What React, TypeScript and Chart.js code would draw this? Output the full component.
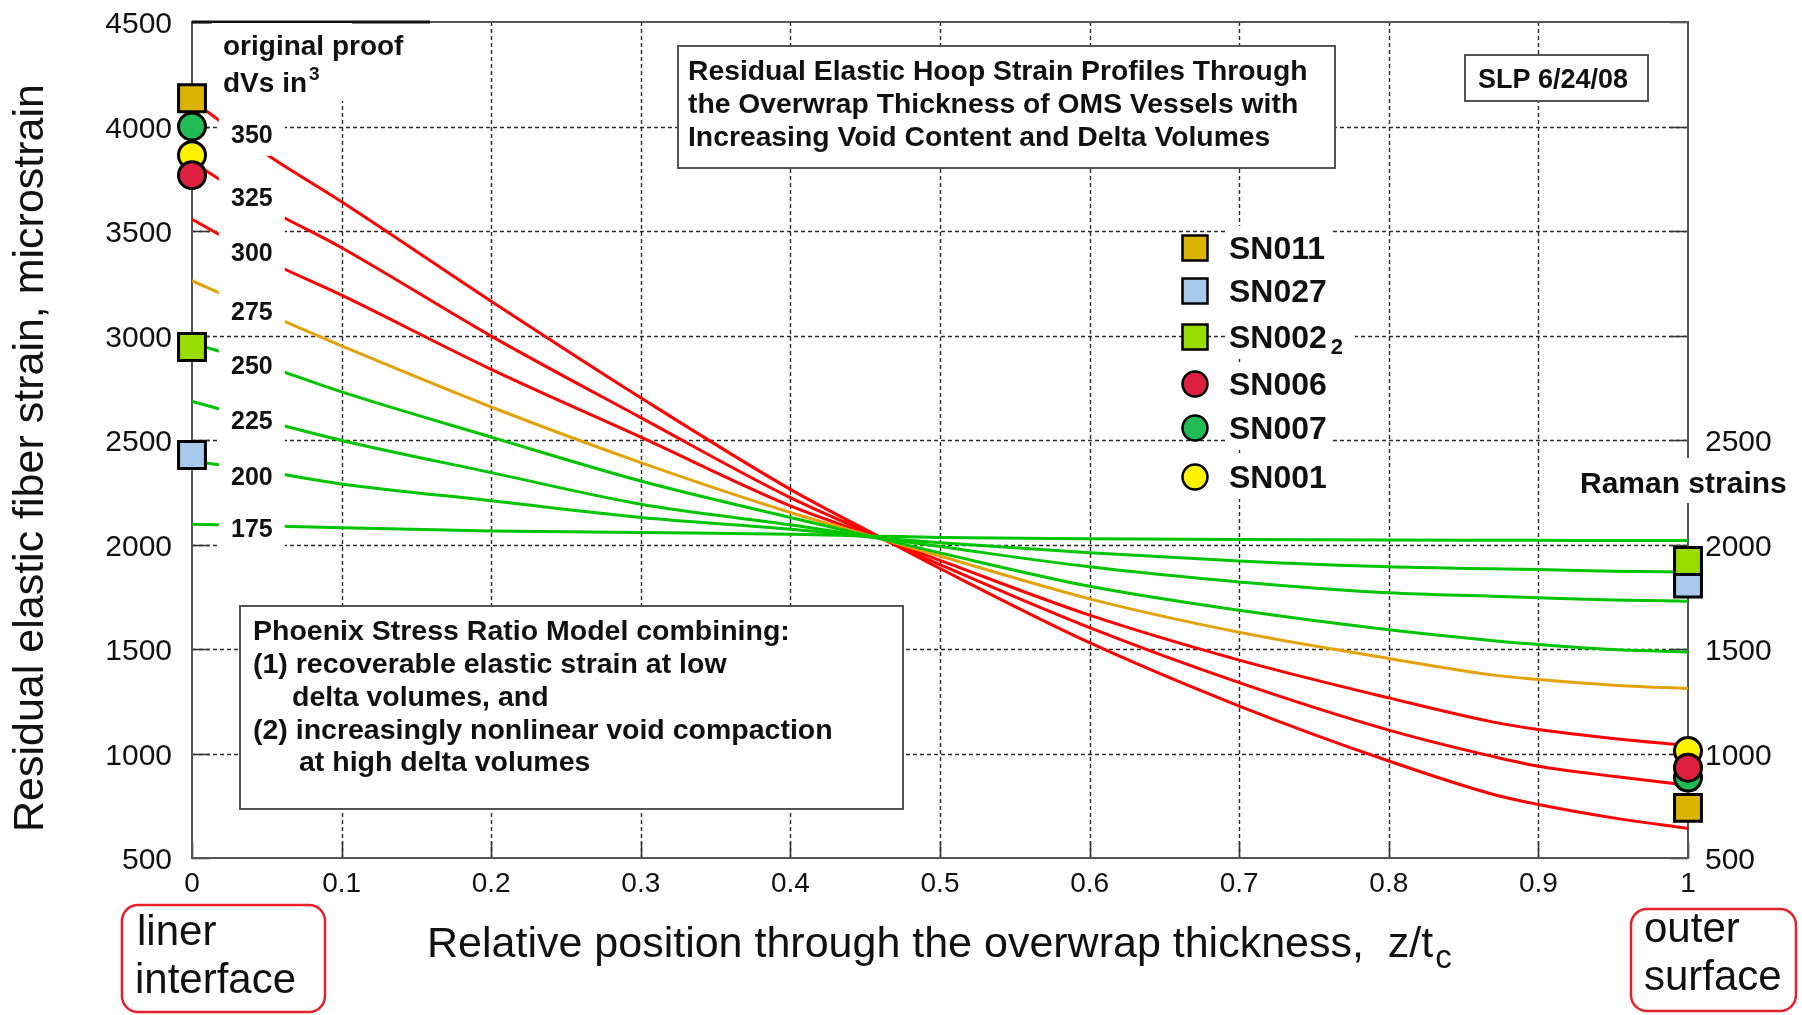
import React, { useEffect, useRef } from 'react';
import { Chart, registerables } from 'chart.js';

Chart.register(...registerables);

// ---------------- data ----------------
// relative position through the overwrap thickness, z/tc
const Z_POS = [0, 0.05, 0.1, 0.2, 0.3, 0.4, 0.46, 0.5, 0.6, 0.7, 0.8, 0.87, 0.9, 0.95, 1.0];

// residual elastic fiber strain (microstrain) for each original proof dV (in^3)
const DV175 = [2097, 2089, 2080, 2065, 2057, 2049, 2040, 2034, 2028, 2024, 2021, 2020, 2020, 2019, 2019];
const DV200 = [2400, 2348, 2290, 2209, 2129, 2073, 2031, 2008, 1960, 1921, 1893, 1884, 1880, 1872, 1869];
const DV225 = [2684, 2589, 2498, 2344, 2193, 2094, 2030, 1990, 1893, 1821, 1769, 1752, 1745, 1734, 1729];
const DV250 = [2965, 2853, 2730, 2514, 2304, 2129, 2028, 1960, 1800, 1685, 1592, 1540, 1522, 1498, 1486];
const DV275 = [3262, 3103, 2950, 2658, 2392, 2153, 2028, 1945, 1740, 1580, 1455, 1375, 1354, 1327, 1311];
const DV300 = [3556, 3359, 3193, 2838, 2514, 2185, 2030, 1924, 1662, 1447, 1266, 1150, 1115, 1072, 1038];
const DV325 = [3830, 3609, 3420, 2997, 2607, 2224, 2032, 1904, 1602, 1339, 1112, 985, 939, 891, 848];
const DV350 = [4125, 3866, 3640, 3164, 2702, 2264, 2035, 1885, 1530, 1227, 964, 804, 756, 692, 641];

const DV_LABELS = ['175', '200', '225', '250', '275', '300', '325', '350'];
const DV_SERIES = [DV175, DV200, DV225, DV250, DV275, DV300, DV325, DV350];

// measured strains: liner interface (z/tc = 0) and Raman strains at outer surface (z/tc = 1)
const SAMPLES = ['SN011', 'SN027', 'SN002', 'SN006', 'SN007', 'SN001'];
const LINER_STRAIN = [4135, 2428, 2945, 3767, 4000, 3863];
const RAMAN_STRAIN = [740, 1813, 1921, 932, 885, 1012];

const Y_TICKS = [500, 1000, 1500, 2000, 2500, 3000, 3500, 4000, 4500];
const Y_TICKS_RIGHT = [500, 1000, 1500, 2000, 2500];
const X_TICKS = [0, 0.1, 0.2, 0.3, 0.4, 0.5, 0.6, 0.7, 0.8, 0.9, 1];
const X_TICK_LABELS = ['0', '0.1', '0.2', '0.3', '0.4', '0.5', '0.6', '0.7', '0.8', '0.9', '1'];

// ---------------- styles ----------------
const FF = '"Liberation Sans", Arial, Helvetica, sans-serif';
const DV_COLORS = ['#00c400', '#00c400', '#00c400', '#00c400', '#e3a20a', '#ff0000', '#ff0000', '#ff0000'];
const SAMPLE_SHAPES = ['rect', 'rect', 'rect', 'circle', 'circle', 'circle'];
const SAMPLE_FILLS = ['#dcb400', '#a9c9ec', '#99dd00', '#dd2040', '#20bb55', '#fff200'];
const SAMPLE_ORDER = [4, 6, 5, 1, 3, 2];

function txt(ctx: any, s: string, x: number, y: number, font: string, align: any = 'left', color = '#111') {
  ctx.save();
  ctx.font = font;
  ctx.fillStyle = color;
  ctx.textAlign = align;
  ctx.textBaseline = 'alphabetic';
  ctx.fillText(s, x, y);
  const w = ctx.measureText(s).width;
  ctx.restore();
  return w;
}

function roundBox(ctx: any, x: number, y: number, w: number, h: number, r: number) {
  ctx.beginPath();
  ctx.moveTo(x + r, y);
  ctx.lineTo(x + w - r, y);
  ctx.arcTo(x + w, y, x + w, y + r, r);
  ctx.lineTo(x + w, y + h - r);
  ctx.arcTo(x + w, y + h, x + w - r, y + h, r);
  ctx.lineTo(x + r, y + h);
  ctx.arcTo(x, y + h, x, y + h - r, r);
  ctx.lineTo(x, y + r);
  ctx.arcTo(x, y, x + r, y, r);
  ctx.closePath();
}

function whiteBox(ctx: any, x: number, y: number, w: number, h: number, border = true) {
  ctx.save();
  ctx.fillStyle = '#fff';
  ctx.fillRect(x, y, w, h);
  if (border) {
    ctx.strokeStyle = '#555';
    ctx.lineWidth = 2;
    ctx.strokeRect(x, y, w, h);
  }
  ctx.restore();
}

function marker(ctx: any, shape: string, x: number, y: number, fill: string) {
  ctx.save();
  ctx.fillStyle = fill;
  ctx.strokeStyle = '#000';
  ctx.lineWidth = 2.5;
  ctx.beginPath();
  if (shape === 'rect') ctx.rect(x - 12.5, y - 12.5, 25, 25);
  else ctx.arc(x, y, 12.5, 0, Math.PI * 2);
  ctx.fill();
  ctx.stroke();
  ctx.restore();
}

const decor = {
  id: 'decor',
  beforeDraw(chart: any) {
    const ctx = chart.ctx;
    ctx.save();
    ctx.fillStyle = '#fff';
    ctx.fillRect(0, 0, chart.width, chart.height);
    ctx.restore();
  },
  beforeDatasetsDraw(chart: any) {
    const { ctx, chartArea: a, scales } = chart;
    const xs = scales.x;
    const ys = scales.y;
    ctx.save();

    // dotted grid
    ctx.strokeStyle = '#2a2a2a';
    ctx.lineWidth = 1.4;
    ctx.setLineDash([4, 3]);
    X_TICKS.forEach((v) => {
      if (v <= 0 || v >= 1) return;
      const px = Math.round(xs.getPixelForValue(v)) + 0.5;
      ctx.beginPath();
      ctx.moveTo(px, a.top);
      ctx.lineTo(px, a.bottom);
      ctx.stroke();
    });
    Y_TICKS.forEach((v) => {
      if (v <= 500 || v >= 4500) return;
      const py = Math.round(ys.getPixelForValue(v)) + 0.5;
      ctx.beginPath();
      ctx.moveTo(a.left, py);
      ctx.lineTo(a.right, py);
      ctx.stroke();
    });
    ctx.setLineDash([]);

    // inner tick marks
    ctx.strokeStyle = '#333';
    ctx.lineWidth = 1.6;
    Y_TICKS.forEach((v) => {
      const py = Math.round(ys.getPixelForValue(v)) + 0.5;
      ctx.beginPath();
      ctx.moveTo(a.left, py);
      ctx.lineTo(a.left + 18, py);
      ctx.moveTo(a.right - 18, py);
      ctx.lineTo(a.right, py);
      ctx.stroke();
    });
    X_TICKS.forEach((v) => {
      const px = Math.round(xs.getPixelForValue(v)) + 0.5;
      ctx.beginPath();
      ctx.moveTo(px, a.bottom);
      ctx.lineTo(px, a.bottom - 16);
      ctx.stroke();
    });

    // frame
    ctx.strokeStyle = '#555';
    ctx.lineWidth = 2;
    ctx.strokeRect(a.left, a.top, a.right - a.left, a.bottom - a.top);
    ctx.strokeStyle = '#111';
    ctx.lineWidth = 3;
    ctx.beginPath();
    ctx.moveTo(a.left, a.top);
    ctx.lineTo(430, a.top);
    ctx.stroke();

    // tick labels
    Y_TICKS.forEach((v) => txt(ctx, String(v), 172, ys.getPixelForValue(v) + 11, `30px ${FF}`, 'right'));
    Y_TICKS_RIGHT.forEach((v) => txt(ctx, String(v), 1705, ys.getPixelForValue(v) + 11, `30px ${FF}`, 'left'));
    X_TICKS.forEach((v, i) => txt(ctx, X_TICK_LABELS[i], xs.getPixelForValue(v), 892, `28px ${FF}`, 'center'));

    // axis titles
    ctx.save();
    ctx.translate(43, 458);
    ctx.rotate(-Math.PI / 2);
    txt(ctx, 'Residual elastic fiber strain, microstrain', 0, 0, `43px ${FF}`, 'center');
    ctx.restore();
    const wx = txt(ctx, 'Relative position through the overwrap thickness,  z/t', 427, 957, `43px ${FF}`);
    txt(ctx, 'c', 427 + wx + 2, 968, `33px ${FF}`);

    // title box
    whiteBox(ctx, 678, 46, 657, 122);
    const tf = `bold 28.3px ${FF}`;
    txt(ctx, 'Residual Elastic Hoop Strain Profiles Through', 688, 80, tf);
    txt(ctx, 'the Overwrap Thickness of OMS Vessels with', 688, 113, tf);
    txt(ctx, 'Increasing Void Content and Delta Volumes', 688, 146, tf);

    // date box
    whiteBox(ctx, 1465, 55, 183, 46);
    txt(ctx, 'SLP 6/24/08', 1478, 88, `bold 27px ${FF}`);

    // model box
    whiteBox(ctx, 240, 606, 663, 203);
    const pf = `bold 28.5px ${FF}`;
    txt(ctx, 'Phoenix Stress Ratio Model combining:', 253, 640, pf);
    txt(ctx, '(1) recoverable elastic strain at low', 253, 673, pf);
    txt(ctx, 'delta volumes, and', 292, 706, pf);
    txt(ctx, '(2) increasingly nonlinear void compaction', 253, 739, pf);
    txt(ctx, 'at high delta volumes', 299, 771, pf);

    // dV legend heading
    whiteBox(ctx, 212, 23, 140, 78, false);
    const hf = `bold 28px ${FF}`;
    txt(ctx, 'original proof', 223, 55, hf);
    const wd = txt(ctx, 'dVs in', 223, 92, hf);
    txt(ctx, '3', 223 + wd + 2, 80, `bold 19px ${FF}`);

    // sample legend
    const LEG_Y = [248, 291, 337, 384, 428, 477];
    const lf = `bold 32px ${FF}`;
    SAMPLES.forEach((name, i) => {
      const cy = LEG_Y[i];
      ctx.save();
      ctx.font = lf;
      const w = ctx.measureText(name).width + (name === 'SN002' ? 22 : 0);
      ctx.restore();
      whiteBox(ctx, 1225, cy - 22, w + 10, 44, false);
      marker(ctx, SAMPLE_SHAPES[i], 1195, cy, SAMPLE_FILLS[i]);
      const tw = txt(ctx, name, 1229, cy + 11, lf);
      if (name === 'SN002') txt(ctx, '2', 1229 + tw + 4, cy + 17, `bold 22px ${FF}`);
    });

    // Raman strains label over the right frame
    whiteBox(ctx, 1574, 458, 224, 45, false);
    txt(ctx, 'Raman strains', 1580, 493, `bold 30px ${FF}`);

    // red rounded callouts
    ctx.strokeStyle = '#e8202a';
    ctx.lineWidth = 2.5;
    roundBox(ctx, 122, 905, 203, 107, 16);
    ctx.stroke();
    roundBox(ctx, 1631, 909, 165, 102, 16);
    ctx.stroke();
    txt(ctx, 'liner', 137, 945, `42px ${FF}`);
    txt(ctx, 'interface', 135, 993, `42px ${FF}`);
    txt(ctx, 'outer', 1644, 942, `42px ${FF}`);
    txt(ctx, 'surface', 1644, 990, `42px ${FF}`);

    ctx.restore();
  },
  afterDatasetsDraw(chart: any) {
    const { ctx, scales } = chart;
    const xs = scales.x;
    const ys = scales.y;
    // curve labels (dV values) placed near the liner interface
    const LABEL_AT = [2078, 2327, 2595, 2858, 3116, 3399, 3661, 3965];
    const cx = xs.getPixelForValue(0.04);
    DV_LABELS.forEach((lab, i) => {
      const cy = ys.getPixelForValue(LABEL_AT[i]);
      whiteBox(ctx, cx - 33, cy - 22, 66, 44, false);
      txt(ctx, lab, cx, cy + 9, `bold 25px ${FF}`, 'center');
    });
  },
};

export default function App() {
  const ref = useRef<HTMLCanvasElement | null>(null);

  useEffect(() => {
    document.body.style.margin = '0';
    document.body.style.overflow = 'hidden';
    const canvas = ref.current;
    if (!canvas) return;

    const curveSets = DV_SERIES.map((vals, i) => ({
      label: DV_LABELS[i],
      data: Z_POS.map((z, j) => ({ x: z, y: vals[j] })),
      showLine: true,
      borderColor: DV_COLORS[i],
      backgroundColor: DV_COLORS[i],
      borderWidth: 3,
      pointRadius: 0,
      fill: false,
      cubicInterpolationMode: 'monotone',
      order: 20 + i,
    }));

    const sampleSets = SAMPLES.map((name, i) => ({
      label: name,
      data: [
        { x: 0, y: LINER_STRAIN[i] },
        { x: 1, y: RAMAN_STRAIN[i] },
      ],
      showLine: false,
      pointStyle: SAMPLE_SHAPES[i],
      pointRadius: SAMPLE_SHAPES[i] === 'rect' ? 19 : 13.5,
      backgroundColor: SAMPLE_FILLS[i],
      borderColor: '#000',
      pointBorderWidth: 3,
      borderWidth: 3,
      clip: false,
      order: SAMPLE_ORDER[i],
    }));

    const chart = new Chart(canvas, {
      type: 'scatter',
      data: { datasets: [...curveSets, ...sampleSets] as any },
      options: {
        animation: false,
        responsive: false,
        devicePixelRatio: 1,
        events: [],
        layout: { padding: { left: 192, right: 114, top: 21, bottom: 157 } },
        plugins: {
          legend: { display: false },
          tooltip: { enabled: false },
          title: { display: false },
        },
        scales: {
          x: { type: 'linear', min: 0, max: 1, display: false },
          y: { type: 'linear', min: 500, max: 4500, display: false },
        },
      } as any,
      plugins: [decor],
    });

    return () => chart.destroy();
  }, []);

  return (
    <div style={{ width: 1802, height: 1015 }}>
      <canvas ref={ref} width={1802} height={1015} style={{ display: 'block' }} />
    </div>
  );
}
